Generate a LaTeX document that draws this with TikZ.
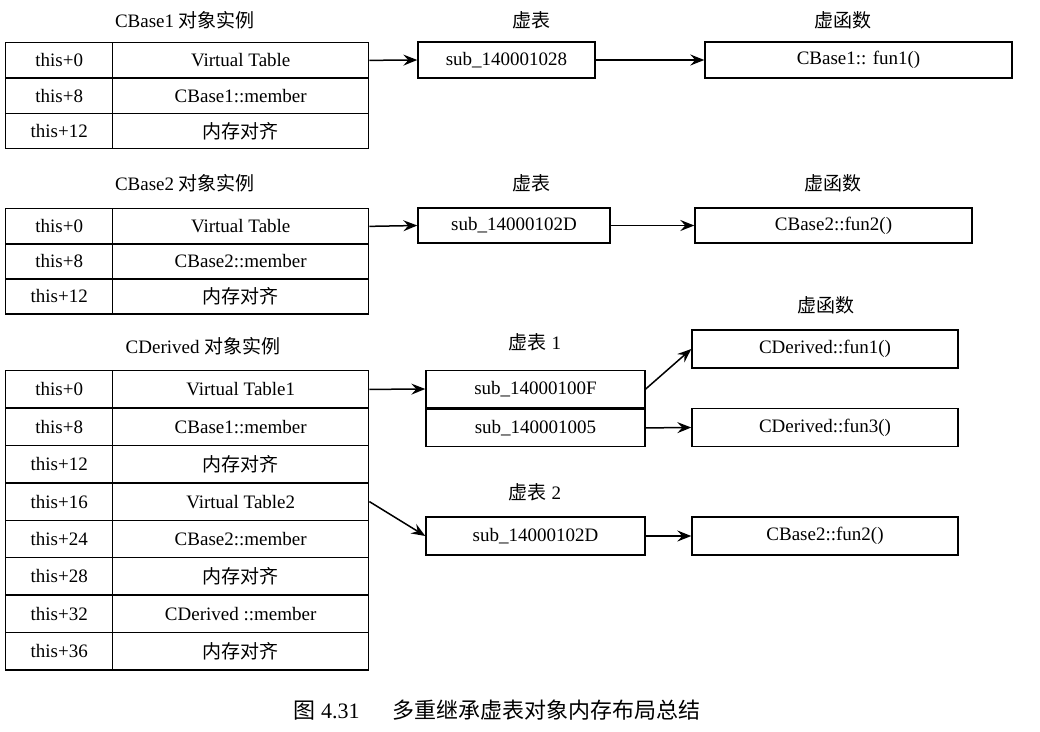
\documentclass[tikz,border=0pt]{standalone}
\usepackage{fontspec}
\setmainfont{Liberation Serif}
\newfontfamily\cjk{Noto Sans CJK SC}
\usetikzlibrary{arrows.meta,positioning}

\begin{document}
\begin{tikzpicture}[
  x=1pt, y=-1pt,
  font=\fontsize{19}{21}\selectfont,
  offcell/.style={draw, line width=1.4pt, inner sep=0pt, anchor=north west,
                  minimum width=107pt, minimum height=35.3pt},
  valcell/.style={draw, line width=1.4pt, inner sep=0pt, anchor=north west,
                  minimum width=256pt, minimum height=35.3pt},
  box/.style={draw, line width=1.4pt, inner sep=0pt, minimum height=36pt},
  flow/.style={-{Stealth[length=14pt,width=11pt,inset=5pt]}, line width=1.5pt},
  ttl/.style={font=\fontsize{19}{21}\selectfont},
]
\useasboundingbox (0,0) rectangle (1040,731);

%============================ CBase1 ============================
\node[ttl] (t1) at (185,20) {CBase1 {\cjk 对象实例}};
\foreach \i/\off/\val in {0/this+0/Virtual Table, 1/this+8/CBase1::member, 2/this+12/{\cjk 内存对齐}} {
  \node[offcell] (a\i)  at (5,42+35.3*\i)   {\off};
  \node[valcell] (av\i) at (112,42+35.3*\i) {\val};
}
\node[ttl] (h1) at (531,20) {\cjk 虚表};
\node[box, minimum width=177pt] (v1) at (506.5,60) {sub\_140001028};
\node[ttl] (k1) at (843,20) {\cjk 虚函数};
\node[box, minimum width=307pt] (f1) at (858.5,60) {CBase1:: fun1()};

%============================ CBase2 ============================
\node[ttl] (t2) at (185,183) {CBase2 {\cjk 对象实例}};
\foreach \i/\off/\val in {0/this+0/Virtual Table, 1/this+8/CBase2::member, 2/this+12/{\cjk 内存对齐}} {
  \node[offcell] (b\i)  at (5,208+35*\i)   {\off};
  \node[valcell] (bv\i) at (112,208+35*\i) {\val};
}
\node[ttl] (h2) at (531,183) {\cjk 虚表};
\node[box, minimum width=192pt, minimum height=35pt] (v2) at (514,225.5) {sub\_14000102D};
\node[ttl] (k2) at (833,183) {\cjk 虚函数};
\node[box, minimum width=277pt, minimum height=35pt] (f2) at (833.5,225.5) {CBase2::fun2()};

%============================ CDerived ============================
\node[ttl] (t3) at (203,346) {CDerived {\cjk 对象实例}};
\foreach \i/\off/\val in {0/this+0/Virtual Table1, 1/this+8/CBase1::member,
    2/this+12/{\cjk 内存对齐}, 3/this+16/Virtual Table2, 4/this+24/CBase2::member,
    5/this+28/{\cjk 内存对齐}, 6/this+32/CDerived ::member, 7/this+36/{\cjk 内存对齐}} {
  \node[offcell, minimum height=37.4pt] (c\i)  at (5,370+37.4*\i)   {\off};
  \node[valcell, minimum height=37.4pt] (cv\i) at (112,370+37.4*\i) {\val};
}

% vtable 1
\node[ttl] (h3) at (535,342) {{\cjk 虚表} 1};
\node[box, minimum width=219pt, minimum height=37.5pt] (s1) at (535.5,389) {sub\_14000100F};
\node[box, minimum width=219pt, minimum height=37.5pt, below=0pt of s1] (s2) {sub\_140001005};
\node[ttl] (k3) at (826,305) {\cjk 虚函数};
\node[box, minimum width=266pt, minimum height=38pt] (f3) at (825,349) {CDerived::fun1()};
\node[box, minimum width=266pt, minimum height=38pt] (f4) at (825,427.5) {CDerived::fun3()};

% vtable 2
\node[ttl] (h4) at (535,492) {{\cjk 虚表} 2};
\node[box, minimum width=219pt, minimum height=38pt] (d2) at (535.5,536) {sub\_14000102D};
\node[box, minimum width=266pt, minimum height=38pt] (f5) at (825,536) {CBase2::fun2()};

\foreach \a/\b in {av0/v1, v1/f1, bv0/v2, v2/f2, cv0/s1, s1/f3, s2/f4, cv3/d2, d2/f5}
  \draw[flow] (\a.east) -- (\b.west);

%============================ CAPTION ============================
\node[font=\fontsize{22}{24}\selectfont] (cap) at (497,710)
  {{\cjk 图} 4.31\hspace{1.5em}{\cjk 多重继承虚表对象内存布局总结}};

\end{tikzpicture}
\end{document}
